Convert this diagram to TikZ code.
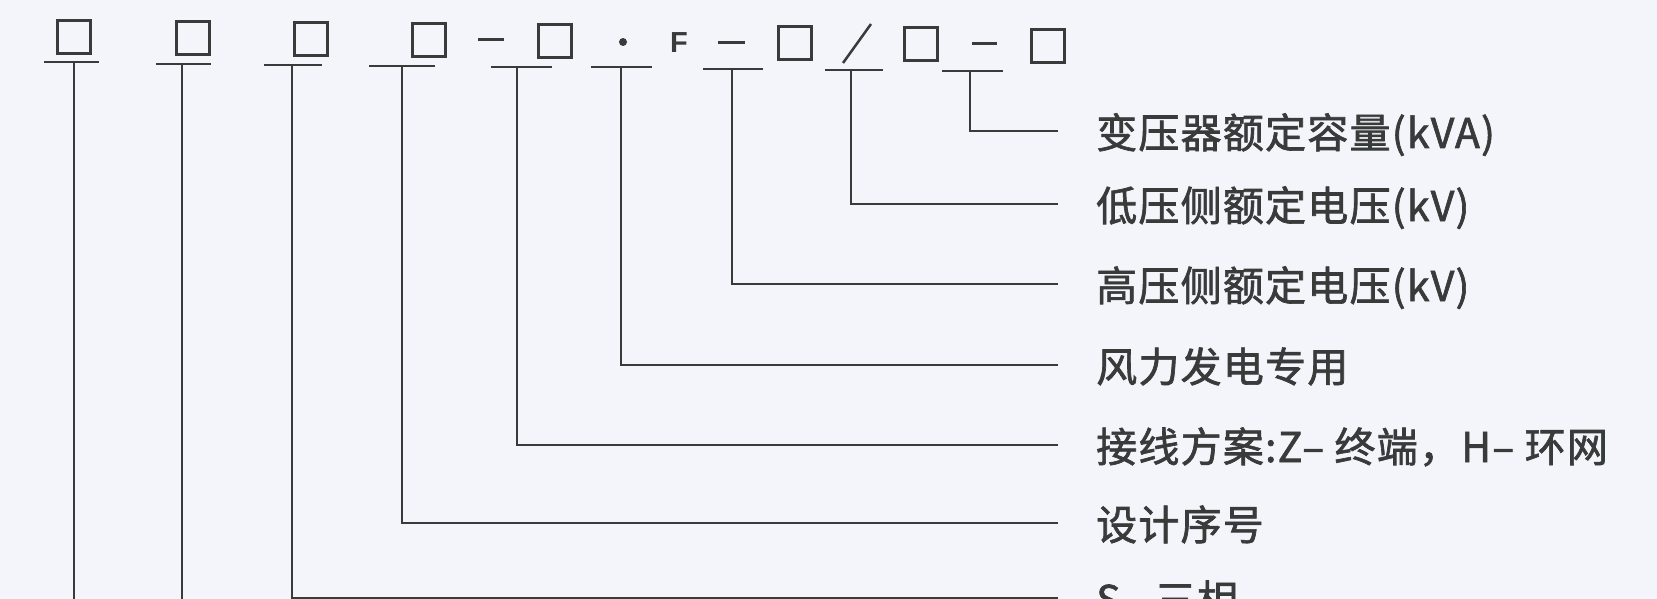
\documentclass[tikz,border=0pt]{standalone}
\usepackage{fontspec}
\newfontfamily\cjk[FakeBold=1.6,LetterSpace=3]{Noto Sans CJK SC}
\newfontfamily\fsans{Liberation Sans}
\definecolor{bg}{RGB}{243,245,250}
\definecolor{ink}{RGB}{55,60,58}
\begin{document}
\begin{tikzpicture}[x=1pt,y=-1pt,
  sq/.style={draw=ink,line width=3pt,minimum size=33pt,inner sep=0pt},
  ul/.style={draw=ink,line width=2.2pt},
  conn/.style={draw=ink,line width=2.2pt},
  glyphline/.style={draw=ink,line width=3pt},
  lab/.style={text=ink,font=\cjk\fontsize{41}{49}\selectfont,anchor=base west,inner sep=0pt},
  fnode/.style={text=ink,font=\fsans\bfseries\fontsize{29}{34}\selectfont,anchor=base west,inner sep=0pt}
]
\useasboundingbox (0,0) rectangle (1657,599);
\fill[bg] (0,0) rectangle (1657,599);
\begin{scope}
\clip (0,0) rectangle (1657,599);
% code row
\node[sq] (s1) at (74,37) {};
\node[sq] (s2) at (192.5,38) {};
\node[sq] (s3) at (310.5,39) {};
\node[sq] (s4) at (429,40) {};
\draw[glyphline] (478,40) -- (504,40);
\node[sq] (s5) at (554.5,41) {};
\fill[ink] (623,42) circle (4);
\node[fnode] (f) at (670,53) {F};
\draw[glyphline] (718,43) -- (745,43);
\node[sq] (s6) at (795,43) {};
\draw[line width=2.5pt,ink] (843,63) -- (871,24);
\node[sq] (s7) at (921,44.5) {};
\draw[glyphline] (972,44) -- (997,44);
\node[sq] (s8) at (1048,46.5) {};
% underlines
\draw[ul] (44,62) -- (99,62);
\draw[ul] (156,64) -- (211,64);
\draw[ul] (264,65) -- (322,65);
\draw[ul] (369,66) -- (435,66);
\draw[ul] (491,67) -- (552,67);
\draw[ul] (591,67) -- (652,67);
\draw[ul] (703,69) -- (763,69);
\draw[ul] (825,70) -- (883,70);
\draw[ul] (942,71) -- (1003,71);
\coordinate (u1) at (74,62);
\coordinate (u2) at (182,64);
\coordinate (u3) at (292,65);
\coordinate (u4) at (402,66);
\coordinate (u5) at (517,67);
\coordinate (u6) at (621,67);
\coordinate (u7) at (732,69);
\coordinate (u8) at (851,70);
\coordinate (u9) at (970,71);
% line ends
\coordinate (e1) at (1058,131);
\coordinate (e2) at (1058,204);
\coordinate (e3) at (1058,284);
\coordinate (e4) at (1058,365);
\coordinate (e5) at (1058,445);
\coordinate (e6) at (1058,523);
\coordinate (e7) at (1058,598);
\coordinate (b1) at (74,640);
\coordinate (b2) at (182,640);
% labels
\node[lab] (t1) at (1096,148) {变压器额定容量(kVA)};
\node[lab] (t2) at (1096,221) {低压侧额定电压(kV)};
\node[lab] (t3) at (1096,301) {高压侧额定电压(kV)};
\node[lab] (t4) at (1096,382) {风力发电专用};
\node[lab] (t5) at (1096,462) {接线方案:Z– 终端，H– 环网};
\node[lab] (t6) at (1096,540) {设计序号};
\node[lab] (t7) at (1096,615) {S– 三相};
% connectors
\draw[conn] (u9) |- (e1);
\draw[conn] (u8) |- (e2);
\draw[conn] (u7) |- (e3);
\draw[conn] (u6) |- (e4);
\draw[conn] (u5) |- (e5);
\draw[conn] (u4) |- (e6);
\draw[conn] (u3) |- (e7);
\draw[conn] (u2) -- (b2);
\draw[conn] (u1) -- (b1);
\end{scope}
\end{tikzpicture}
\end{document}
